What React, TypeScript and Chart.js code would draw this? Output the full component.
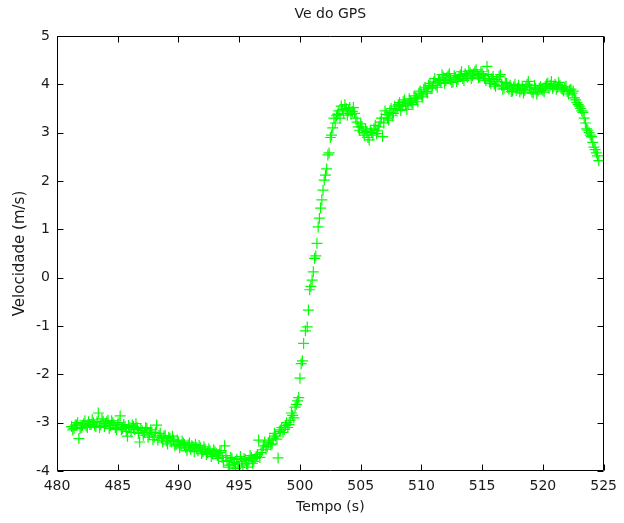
import React, { useEffect, useRef } from 'react';
import { Chart, registerables } from 'chart.js';

Chart.register(...registerables);

// ---- Data ----
const titleText = 'Ve do GPS';
const xLabel = 'Tempo (s)';
const yLabel = 'Velocidade (m/s)';

const xMin = 480;
const xMax = 525;
const xStep = 5;
const yMin = -4;
const yMax = 5;
const yStep = 1;

// Segment 1: slow decline to the minimum near 495 s (samples A)
const times1 = [
  481.2, 481.4, 481.6, 481.8, 482.0, 482.2, 482.4, 482.6, 482.8, 483.0,
  483.2, 483.4, 483.6, 483.8, 484.0, 484.2, 484.4, 484.6, 484.8, 485.0,
  485.2, 485.4, 485.6, 485.8, 486.0, 486.2, 486.4, 486.6, 486.8, 487.0,
  487.2, 487.4, 487.6, 487.8, 488.0, 488.2, 488.4, 488.6, 488.8, 489.0,
  489.2, 489.4, 489.6, 489.8, 490.0, 490.2, 490.4, 490.6, 490.8, 491.0,
  491.2, 491.4, 491.6, 491.8, 492.0, 492.2, 492.4, 492.6, 492.8, 493.0,
  493.2, 493.4, 493.6, 493.8, 494.0, 494.2, 494.4, 494.6, 494.8, 495.0,
  495.2, 495.4, 495.6, 495.8, 496.0, 496.2, 496.4, 496.6, 496.8, 497.0,
  497.2, 497.4, 497.6, 497.8, 498.0, 498.2, 498.4, 498.6, 498.8, 499.0,
  499.2, 499.4, 499.6, 499.8,
];
const vel1 = [
  -3.08, -3.12, -3.05, -3.33, -3.10, -3.02, -3.07, -2.98, -3.04, -3.00,
  -3.08, -2.80, -3.05, -2.97, -3.02, -2.95, -3.06, -3.00, -3.10, -3.03,
  -2.86, -3.12, -3.08, -3.28, -3.10, -3.05, -3.14, -3.10, -3.40, -3.16,
  -3.20, -3.12, -3.24, -3.20, -3.30, -3.05, -3.26, -3.32, -3.28, -3.38,
  -3.30, -3.40, -3.36, -3.45, -3.40, -3.48, -3.42, -3.52, -3.46, -3.55,
  -3.50, -3.45, -3.58, -3.52, -3.60, -3.55, -3.62, -3.58, -3.65, -3.60,
  -3.68, -3.62, -3.72, -3.48, -3.78, -3.88, -3.74, -3.82, -3.76, -3.92,
  -3.80, -3.74, -3.85, -3.78, -3.72, -3.80, -3.70, -3.36, -3.62, -3.48,
  -3.55, -3.42, -3.46, -3.32, -3.28, -3.73, -3.15, -3.20, -3.06, -3.10,
  -2.95, -2.85, -2.68, -2.55,
];

// Segment 1 (samples B, between the A samples)
const times1b = [
  481.3, 481.5, 481.7, 481.9, 482.1, 482.3, 482.5, 482.7, 482.9, 483.1,
  483.3, 483.5, 483.7, 483.9, 484.1, 484.3, 484.5, 484.7, 484.9, 485.1,
  485.3, 485.5, 485.7, 485.9, 486.1, 486.3, 486.5, 486.7, 486.9, 487.1,
  487.3, 487.5, 487.7, 487.9, 488.1, 488.3, 488.5, 488.7, 488.9, 489.1,
  489.3, 489.5, 489.7, 489.9, 490.1, 490.3, 490.5, 490.7, 490.9, 491.1,
  491.3, 491.5, 491.7, 491.9, 492.1, 492.3, 492.5, 492.7, 492.9, 493.1,
  493.3, 493.5, 493.7, 493.9, 494.1, 494.3, 494.5, 494.7, 494.9, 495.1,
  495.3, 495.5, 495.7, 495.9, 496.1, 496.3, 496.5, 496.7, 496.9, 497.1,
  497.3, 497.5, 497.7, 497.9, 498.1, 498.3, 498.5, 498.7, 498.9, 499.1,
  499.3, 499.5, 499.7, 499.9,
];
const vel1b = [
  -3.15, -3.05, -3.00, -3.12, -3.06, -2.96, -3.10, -3.04, -2.94, -3.06,
  -2.98, -3.10, -2.92, -3.08, -2.98, -3.12, -2.96, -3.05, -3.14, -3.00,
  -3.15, -3.04, -3.18, -3.06, -3.20, -3.08, -3.02, -3.22, -3.12, -3.26,
  -3.10, -3.30, -3.15, -3.35, -3.20, -3.36, -3.22, -3.40, -3.26, -3.44,
  -3.32, -3.28, -3.48, -3.36, -3.52, -3.38, -3.45, -3.58, -3.42, -3.48,
  -3.60, -3.52, -3.47, -3.64, -3.50, -3.66, -3.54, -3.70, -3.56, -3.64,
  -3.74, -3.58, -3.80, -3.68, -3.92, -3.72, -3.86, -3.95, -3.84, -3.70,
  -3.88, -3.76, -3.92, -3.68, -3.84, -3.74, -3.66, -3.72, -3.56, -3.40,
  -3.50, -3.36, -3.44, -3.22, -3.34, -3.18, -3.10, -3.14, -3.00, -3.04,
  -2.80, -2.90, -2.62, -2.48,
];

// Segment 2: the steep rise between 500 s and 503 s
const times2 = [
  500.0, 500.1, 500.2, 500.3, 500.45, 500.6, 500.7, 500.8, 500.9, 501.0,
  501.1, 501.2, 501.3, 501.4, 501.5, 501.6, 501.7, 501.8, 501.9, 502.0,
  502.1, 502.2, 502.3, 502.4, 502.5, 502.6, 502.7, 502.8, 502.9, 503.0,
];
const vel2 = [
  -2.08, -1.78, -1.72, -1.36, -1.10, -1.02, -0.67, -0.25, -0.18, -0.05,
  0.12, 0.40, 0.45, 0.71, 1.05, 1.23, 1.44, 1.61, 1.81, 2.02,
  2.12, 2.25, 2.54, 2.58, 2.90, 2.95, 3.10, 3.30, 3.20, 3.35,
];

// Segment 3: plateau around 4 m/s and final drop (samples A)
const times3 = [
  503.2, 503.4, 503.6, 503.8, 504.0, 504.2, 504.4, 504.6, 504.8, 505.0,
  505.2, 505.4, 505.6, 505.8, 506.0, 506.2, 506.4, 506.6, 506.8, 507.0,
  507.2, 507.4, 507.6, 507.8, 508.0, 508.2, 508.4, 508.6, 508.8, 509.0,
  509.2, 509.4, 509.6, 509.8, 510.0, 510.2, 510.4, 510.6, 510.8, 511.0,
  511.2, 511.4, 511.6, 511.8, 512.0, 512.2, 512.4, 512.6, 512.8, 513.0,
  513.2, 513.4, 513.6, 513.8, 514.0, 514.2, 514.4, 514.6, 514.8, 515.0,
  515.2, 515.4, 515.6, 515.8, 516.0, 516.2, 516.4, 516.6, 516.8, 517.0,
  517.2, 517.4, 517.6, 517.8, 518.0, 518.2, 518.4, 518.6, 518.8, 519.0,
  519.2, 519.4, 519.6, 519.8, 520.0, 520.2, 520.4, 520.6, 520.8, 521.0,
  521.2, 521.4, 521.6, 521.8, 522.0, 522.2, 522.4, 522.6, 522.8, 523.0,
  523.2, 523.4, 523.6, 523.8, 524.0, 524.2, 524.4, 524.6,
];
const vel3 = [
  3.45, 3.55, 3.40, 3.50, 3.45, 3.38, 3.52, 3.30, 3.12, 3.18,
  3.00, 3.08, 2.90, 3.05, 2.95, 3.15, 3.05, 3.22, 2.92, 3.45,
  3.30, 3.42, 3.35, 3.55, 3.50, 3.62, 3.55, 3.68, 3.48, 3.70,
  3.62, 3.76, 3.70, 3.82, 3.78, 3.90, 3.85, 3.98, 3.92, 4.05,
  3.98, 4.10, 4.04, 4.15, 4.08, 4.18, 4.10, 4.05, 4.14, 4.10,
  4.20, 4.12, 4.22, 4.15, 4.24, 4.18, 4.27, 4.20, 4.15, 4.22,
  4.12, 4.37, 4.05, 4.12, 4.00, 4.10, 4.16, 3.98, 3.92, 4.02,
  3.90, 3.85, 3.95, 3.88, 3.98, 3.90, 3.82, 3.95, 4.06, 3.90,
  3.82, 3.92, 3.86, 3.95, 3.88, 3.96, 4.02, 3.98, 3.92, 4.00,
  3.94, 3.98, 3.90, 3.94, 3.85, 3.88, 3.82, 3.72, 3.62, 3.55,
  3.45, 3.30, 3.08, 3.00, 2.92, 2.70, 2.58, 2.42,
];

// Segment 3 (samples B, between the A samples)
const times3b = [
  503.1, 503.3, 503.5, 503.7, 503.9, 504.1, 504.3, 504.5, 504.7, 504.9,
  505.1, 505.3, 505.5, 505.7, 505.9, 506.1, 506.3, 506.5, 506.7, 506.9,
  507.1, 507.3, 507.5, 507.7, 507.9, 508.1, 508.3, 508.5, 508.7, 508.9,
  509.1, 509.3, 509.5, 509.7, 509.9, 510.1, 510.3, 510.5, 510.7, 510.9,
  511.1, 511.3, 511.5, 511.7, 511.9, 512.1, 512.3, 512.5, 512.7, 512.9,
  513.1, 513.3, 513.5, 513.7, 513.9, 514.1, 514.3, 514.5, 514.7, 514.9,
  515.1, 515.3, 515.5, 515.7, 515.9, 516.1, 516.3, 516.5, 516.7, 516.9,
  517.1, 517.3, 517.5, 517.7, 517.9, 518.1, 518.3, 518.5, 518.7, 518.9,
  519.1, 519.3, 519.5, 519.7, 519.9, 520.1, 520.3, 520.5, 520.7, 520.9,
  521.1, 521.3, 521.5, 521.7, 521.9, 522.1, 522.3, 522.5, 522.7, 522.9,
  523.1, 523.3, 523.5, 523.7, 523.9, 524.1, 524.3, 524.5,
];
const vel3b = [
  3.38, 3.30, 3.48, 3.58, 3.36, 3.52, 3.44, 3.40, 3.22, 3.05,
  3.12, 2.95, 3.02, 2.85, 3.00, 3.08, 2.98, 3.12, 3.30, 3.20,
  3.38, 3.26, 3.50, 3.40, 3.48, 3.58, 3.46, 3.64, 3.56, 3.60,
  3.66, 3.58, 3.72, 3.64, 3.86, 3.74, 3.94, 3.82, 4.02, 3.96,
  4.12, 3.94, 4.08, 4.20, 4.02, 4.14, 4.22, 4.04, 4.18, 4.06,
  4.16, 4.26, 4.08, 4.18, 4.28, 4.12, 4.22, 4.30, 4.14, 4.26,
  4.18, 4.08, 4.20, 4.02, 4.16, 3.96, 4.06, 4.20, 3.90, 4.04,
  3.94, 3.98, 3.86, 4.00, 3.92, 3.84, 3.96, 3.88, 4.00, 3.94,
  3.84, 3.98, 3.80, 3.92, 3.90, 3.84, 4.00, 3.92, 4.06, 3.96,
  3.90, 4.04, 3.92, 3.86, 3.96, 3.80, 3.90, 3.86, 3.68, 3.58,
  3.50, 3.42, 3.20, 3.05, 2.95, 2.80, 2.65, 2.52,
];

// ---- Styling ----
const FONT = "'DejaVu Sans', 'Liberation Sans', sans-serif";
const TEXT = '#1a1a1a';
const MARKER = '#00ff00';

const framePlugin = {
  id: 'matlabFrame',
  afterLayout(chart: any) {
    const tb = chart.titleBlock;
    const a = chart.chartArea;
    if (tb && a) {
      tb.left = a.left;
      tb.right = a.right;
      tb.width = a.right - a.left;
    }
  },
  afterDraw(chart: any) {
    const { ctx, chartArea: a, scales } = chart;
    const L = Math.round(a.left) + 0.5;
    const R = Math.round(a.right) - 0.5;
    const T = Math.round(a.top) + 0.5;
    const B = Math.round(a.bottom) - 0.5;
    const len = 6;
    ctx.save();
    ctx.strokeStyle = '#000';
    ctx.lineWidth = 1;
    ctx.beginPath();
    ctx.rect(L, T, R - L, B - T);
    const xs = scales.x;
    xs.ticks.forEach((t: any) => {
      const px = Math.round(xs.getPixelForValue(t.value)) + 0.5;
      ctx.moveTo(px, B);
      ctx.lineTo(px, B - len);
      ctx.moveTo(px, T);
      ctx.lineTo(px, T + len);
    });
    const ys = scales.y;
    ys.ticks.forEach((t: any) => {
      const py = Math.round(ys.getPixelForValue(t.value)) + 0.5;
      ctx.moveTo(L, py);
      ctx.lineTo(L + len, py);
      ctx.moveTo(R, py);
      ctx.lineTo(R - len, py);
    });
    ctx.stroke();
    ctx.restore();
  },
};

const toPoints = (ts: number[], vs: number[]) =>
  ts.map((t, i) => ({ x: t, y: vs[i] })).filter((p) => p.y !== undefined);

export default function App() {
  const ref = useRef<HTMLCanvasElement>(null);

  useEffect(() => {
    const canvas = ref.current;
    if (!canvas) return;
    const points = [
      ...toPoints(times1, vel1),
      ...toPoints(times1b, vel1b),
      ...toPoints(times2, vel2),
      ...toPoints(times3, vel3),
      ...toPoints(times3b, vel3b),
    ].sort((a, b) => a.x - b.x);
    const chart = new Chart(canvas, {
      type: 'scatter',
      data: {
        datasets: [
          {
            label: 'Ve',
            data: points,
            showLine: false,
            pointStyle: 'cross',
            pointRadius: 5.5,
            pointBorderWidth: 1.2,
            borderColor: MARKER,
            backgroundColor: MARKER,
            pointBorderColor: MARKER,
          },
        ],
      },
      options: {
        responsive: false,
        animation: false,
        layout: { padding: { left: 0, right: 17, top: 0, bottom: 0 } },
        plugins: {
          legend: { display: false },
          tooltip: { enabled: false },
          title: {
            display: true,
            text: titleText,
            color: TEXT,
            font: { family: FONT, size: 14, weight: 'normal' },
            padding: { top: 6, bottom: 13.2 },
          },
        },
        scales: {
          x: {
            type: 'linear',
            min: xMin,
            max: xMax,
            ticks: {
              stepSize: xStep,
              color: TEXT,
              font: { family: FONT, size: 14 },
              padding: 7,
              maxRotation: 0,
              autoSkip: false,
            },
            grid: { display: false, drawTicks: false },
            border: { display: false },
            title: {
              display: true,
              text: xLabel,
              color: TEXT,
              font: { family: FONT, size: 14 },
              padding: { top: 0, bottom: 7 },
            },
            afterFit: (s: any) => {
              s.height = 52;
            },
          },
          y: {
            type: 'linear',
            min: yMin,
            max: yMax,
            ticks: {
              stepSize: yStep,
              color: TEXT,
              font: { family: FONT, size: 14 },
              padding: 7,
              autoSkip: false,
            },
            grid: { display: false, drawTicks: false },
            border: { display: false },
            title: {
              display: true,
              text: yLabel,
              color: TEXT,
              font: { family: FONT, size: 15 },
              padding: { top: 11, bottom: 0 },
            },
            afterFit: (s: any) => {
              s.width = 57;
            },
          },
        },
      },
      plugins: [framePlugin],
    } as any);
    return () => chart.destroy();
  }, []);

  return (
    <div style={{ position: 'absolute', left: 0, top: 0, width: 624, height: 523, background: '#fff' }}>
      <canvas ref={ref} width={624} height={523} style={{ display: 'block' }} />
    </div>
  );
}
